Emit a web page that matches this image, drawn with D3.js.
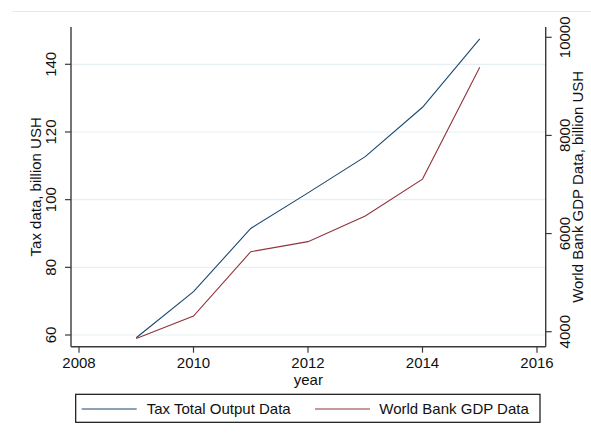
<!DOCTYPE html>
<html>
<head>
<meta charset="utf-8">
<script src="https://cdn.jsdelivr.net/npm/d3@7"></script>
<style>
  body { margin: 0; background: #fff; }
  text { font-family: "Liberation Sans", Arial, sans-serif; fill: #111; }
</style>
</head>
<body>
<div id="chart"></div>
<script>
// data
var years = [2009, 2010, 2011, 2012, 2013, 2014, 2015];
var taxTotal = [59.2, 72.8, 91.5, 102.0, 112.7, 127.3, 147.5];     // left axis
var worldBankGdp = [3860, 4320, 5630, 5835, 6360, 7110, 9390];     // right axis
var xTicks = [2008, 2010, 2012, 2014, 2016];
var leftTicks = [60, 80, 100, 120, 140];
var rightTicks = [4000, 6000, 8000, 10000];
var seriesNames = ["Tax Total Output Data", "World Bank GDP Data"];
var colors = ["#1a476f", "#90353b"];

var W = 591, H = 435;
var frame = { left: 71, right: 545.7, top: 27, bottom: 346.7 };
var fontSize = "15px";

var svg = d3.select("#chart").append("svg")
    .attr("width", W)
    .attr("height", H);

var x = d3.scaleLinear().domain([2008, 2016]).range([79, 537]);
var yL = d3.scaleLinear().domain([60, 140]).range([335, 64.3]);
var yR = d3.scaleLinear().domain([4000, 10000]).range([331.7, 37.3]);

// faint outer border line at top
svg.append("line")
    .attr("x1", 12).attr("x2", W)
    .attr("y1", 11.5).attr("y2", 11.5)
    .attr("stroke", "#e3ebed").attr("stroke-width", 1);

// grid lines
svg.append("g").selectAll("line").data(leftTicks).enter().append("line")
    .attr("x1", frame.left).attr("x2", frame.right)
    .attr("y1", function(d) { return yL(d); })
    .attr("y2", function(d) { return yL(d); })
    .attr("stroke", "#e6eff1").attr("stroke-width", 1.2);

// axes lines
var axisColor = "#3a3a3a";
svg.append("line")
    .attr("x1", frame.left).attr("x2", frame.left)
    .attr("y1", frame.top).attr("y2", frame.bottom)
    .attr("stroke", axisColor).attr("stroke-width", 1.4);
svg.append("line")
    .attr("x1", frame.right).attr("x2", frame.right)
    .attr("y1", frame.top).attr("y2", frame.bottom)
    .attr("stroke", axisColor).attr("stroke-width", 1.4);
svg.append("line")
    .attr("x1", frame.left).attr("x2", frame.right)
    .attr("y1", frame.bottom).attr("y2", frame.bottom)
    .attr("stroke", axisColor).attr("stroke-width", 1.4);

// x ticks
var xt = svg.append("g").selectAll("g").data(xTicks).enter().append("g")
    .attr("transform", function(d) { return "translate(" + x(d) + ",0)"; });
xt.append("line")
    .attr("y1", frame.bottom).attr("y2", frame.bottom + 6)
    .attr("stroke", axisColor).attr("stroke-width", 1.2);
xt.append("text")
    .attr("y", 368)
    .attr("text-anchor", "middle")
    .style("font-size", fontSize)
    .text(function(d) { return d; });

svg.append("text")
    .attr("x", (frame.left + frame.right) / 2)
    .attr("y", 385)
    .attr("text-anchor", "middle")
    .style("font-size", fontSize)
    .text("year");

// left ticks
var lt = svg.append("g").selectAll("g").data(leftTicks).enter().append("g")
    .attr("transform", function(d) { return "translate(0," + yL(d) + ")"; });
lt.append("line")
    .attr("x1", frame.left - 6).attr("x2", frame.left)
    .attr("stroke", axisColor).attr("stroke-width", 1.2);
lt.append("text")
    .attr("transform", "translate(56,0) rotate(-90)")
    .attr("text-anchor", "middle")
    .style("font-size", fontSize)
    .text(function(d) { return d; });

svg.append("text")
    .attr("transform", "translate(41," + (frame.top + frame.bottom) / 2 + ") rotate(-90)")
    .attr("text-anchor", "middle")
    .style("font-size", fontSize)
    .text("Tax data, billion USH");

// right ticks
var rt = svg.append("g").selectAll("g").data(rightTicks).enter().append("g")
    .attr("transform", function(d) { return "translate(0," + yR(d) + ")"; });
rt.append("line")
    .attr("x1", frame.right).attr("x2", frame.right + 6)
    .attr("stroke", axisColor).attr("stroke-width", 1.2);
rt.append("text")
    .attr("transform", "translate(570,0) rotate(-90)")
    .attr("text-anchor", "middle")
    .style("font-size", fontSize)
    .text(function(d) { return d; });

svg.append("text")
    .attr("transform", "translate(582.5," + (frame.top + frame.bottom) / 2 + ") rotate(-90)")
    .attr("text-anchor", "middle")
    .style("font-size", fontSize)
    .text("World Bank GDP Data, billion USH");

// series lines
var lineL = d3.line()
    .x(function(d, i) { return x(years[i]); })
    .y(function(d) { return yL(d); });
var lineR = d3.line()
    .x(function(d, i) { return x(years[i]); })
    .y(function(d) { return yR(d); });

svg.append("path")
    .datum(taxTotal)
    .attr("d", lineL)
    .attr("fill", "none")
    .attr("stroke", colors[0])
    .attr("stroke-width", 1.1);

svg.append("path")
    .datum(worldBankGdp)
    .attr("d", lineR)
    .attr("fill", "none")
    .attr("stroke", colors[1])
    .attr("stroke-width", 1.1);

// legend
var legend = svg.append("g");
legend.append("rect")
    .attr("x", 75.7).attr("y", 394.3)
    .attr("width", 540 - 75.7).attr("height", 422.3 - 394.3)
    .attr("fill", "#fff")
    .attr("stroke", "#111").attr("stroke-width", 1.2);

var legendX = [81.7, 315];
var li = legend.selectAll("g").data(seriesNames).enter().append("g")
    .attr("transform", function(d, i) { return "translate(" + legendX[i] + ",409)"; });
li.append("line")
    .attr("x1", 0).attr("x2", 55)
    .attr("stroke", function(d, i) { return colors[i]; })
    .attr("stroke-width", 1.1);
li.append("text")
    .attr("x", function(d, i) { return i === 0 ? 65 : 64.3; })
    .attr("y", 5.3)
    .style("font-size", fontSize)
    .text(function(d) { return d; });
</script>
</body>
</html>
